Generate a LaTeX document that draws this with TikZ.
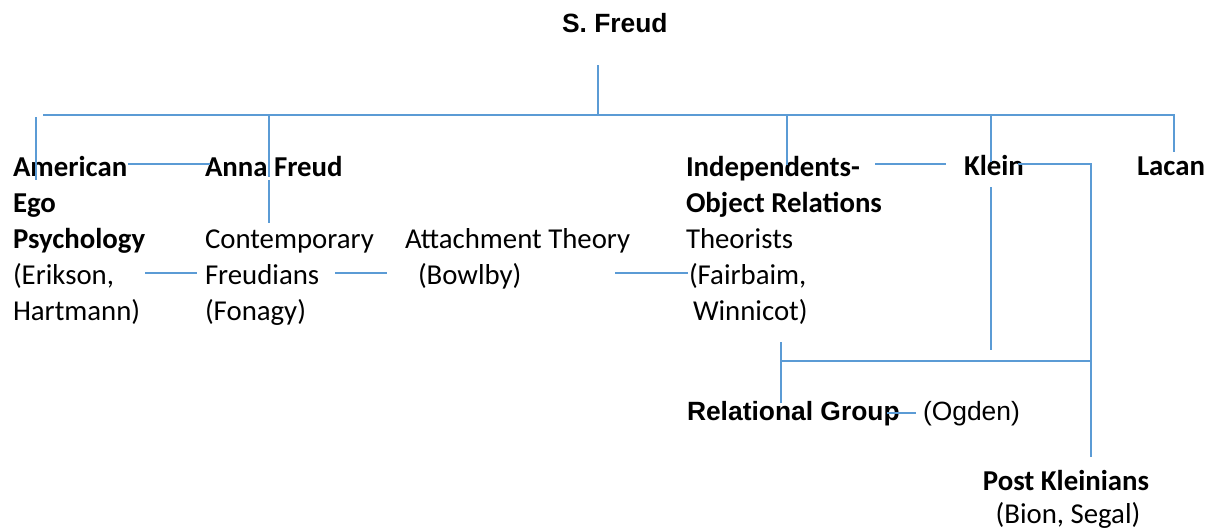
\documentclass[tikz,border=0pt]{standalone}
\usepackage{fontspec}
\setmainfont{Carlito}
\newfontfamily\arialf{Liberation Sans}
\definecolor{linkblue}{HTML}{5B9BD5}
\tikzset{
  lbl/.style={anchor=base west, inner sep=0pt, outer sep=0pt, font=\fontsize{28.8}{34}\selectfont},
  bl/.style={lbl, font=\fontsize{28.8}{34}\selectfont\bfseries},
  albl/.style={anchor=base west, inner sep=0pt, outer sep=0pt, font=\arialf\fontsize{26.4}{32}\selectfont},
  ab/.style={albl, font=\arialf\fontsize{26.4}{32}\selectfont\bfseries},
  link/.style={draw=linkblue, line width=1.2pt}
}
\begin{document}
\begin{tikzpicture}[x=1pt,y=-1pt]
\useasboundingbox (0,0) rectangle (1215,531);
% texts
\node[ab] (freud) at (562,32) {S. Freud};
\node[bl] (am1) at (13,176) {American};
\node[bl] (am2) at (13,212) {Ego};
\node[bl] (am3) at (13,248) {Psychology};
\node[lbl] (am4) at (13,284) {(Erikson,};
\node[lbl] (am5) at (13,320) {Hartmann)};
\node[bl] (anna) at (205,176) {Anna Freud};
\node[lbl] (cf1) at (205,248) {Contemporary};
\node[lbl] (cf2) at (205,284) {Freudians};
\node[lbl] (cf3) at (205,320) {(Fonagy)};
\node[lbl] (at1) at (405,248) {Attachment Theory};
\node[lbl] (at2) at (418,284) {(Bowlby)};
\node[bl] (in1) at (686,176) {Independents-};
\node[bl] (in2) at (686,212) {Object Relations};
\node[lbl] (in3) at (686,248) {Theorists};
\node[lbl] (in4) at (689,284) {(Fairbaim,};
\node[lbl] (in5) at (693,320) {Winnicot)};
\node[bl] (klein) at (964,175) {Klein};
\node[bl] (lacan) at (1137,175) {Lacan};
\node[ab] (rel) at (687,420) {Relational Group};
\node[albl] (ogden) at (923,420) {(Ogden)};
\node[bl, anchor=base] (pk1) at (1066,490) {Post Kleinians};
\node[lbl, anchor=base] (pk2) at (1068,523) {(Bion, Segal)};
% coordinates
\coordinate (fT) at (598,65);
\coordinate (fB) at (598,115);
\coordinate (topL) at (43,115);
\coordinate (topR) at (1174,115);
\coordinate (lacT) at (1174,152);
\coordinate (amT) at (36,117);
\coordinate (amB) at (36,180);
\coordinate (anT) at (269,115);
\coordinate (anM) at (269,177);
\coordinate (anM2) at (269,180);
\coordinate (anB) at (269,223);
\coordinate (aaL) at (128,164);
\coordinate (aaR) at (210,164);
\coordinate (inT) at (787,115);
\coordinate (inB) at (787,165);
\coordinate (klT) at (991,115);
\coordinate (klM) at (991,162);
\coordinate (klM2) at (991,187);
\coordinate (klB) at (991,350);
\coordinate (ikL) at (875,164);
\coordinate (ikR) at (946,164);
\coordinate (krL) at (1018,164);
\coordinate (krC) at (1091,164);
\coordinate (krB) at (1091,457);
\coordinate (hbL) at (782,361);
\coordinate (hbR) at (1091,361);
\coordinate (wT) at (781,342);
\coordinate (wB) at (781,403);
\coordinate (roL) at (887,413);
\coordinate (roR) at (916,413);
\coordinate (efL) at (145,273);
\coordinate (efR) at (197,273);
\coordinate (faL) at (335,273);
\coordinate (faR) at (387,273);
\coordinate (afL) at (615,273);
\coordinate (afR) at (688,273);
% connectors
\draw[link] (fT) -- (fB);
\draw[link] (topL) -- (topR) -- (lacT);
\draw[link] (amT) -- (amB);
\draw[link] (anT) -- (anM);
\draw[link] (anM2) -- (anB);
\draw[link] (aaL) -- (aaR);
\draw[link] (inT) -- (inB);
\draw[link] (klT) -- (klM);
\draw[link] (klM2) -- (klB);
\draw[link] (ikL) -- (ikR);
\draw[link] (krL) -- (krC) -- (krB);
\draw[link] (hbL) -- (hbR);
\draw[link] (wT) -- (wB);
\draw[link] (roL) -- (roR);
\draw[link] (efL) -- (efR);
\draw[link] (faL) -- (faR);
\draw[link] (afL) -- (afR);
\end{tikzpicture}
\end{document}
